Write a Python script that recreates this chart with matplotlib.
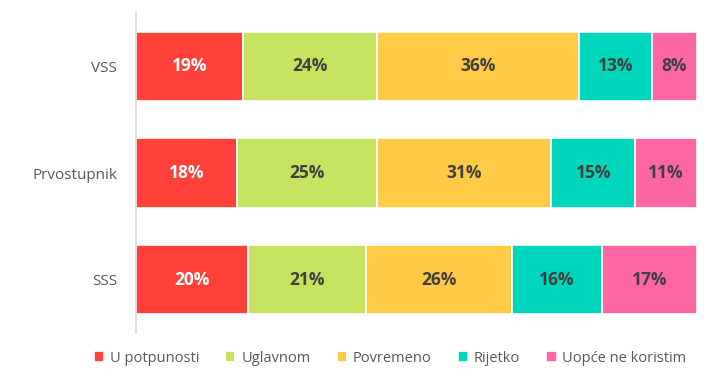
import matplotlib.pyplot as plt
import numpy as np

# data
categories = ['VSS', 'Prvostupnik', 'SSS']
series = ['U potpunosti', 'Uglavnom', 'Povremeno', 'Rijetko', 'Uopće ne koristim']
values = {
    'U potpunosti': [19, 18, 20],
    'Uglavnom': [24, 25, 21],
    'Povremeno': [36, 31, 26],
    'Rijetko': [13, 15, 16],
    'Uopće ne koristim': [8, 11, 17],
}
colors = ['#FF4139', '#C5E35E', '#FFCA45', '#00D6BC', '#FF66A3']
label_colors = ['white', '#404040', '#404040', '#404040', '#404040']

plt.rcParams['font.family'] = ['Open Sans', 'DejaVu Sans']

fig = plt.figure(figsize=(7.28, 3.83), dpi=100)
ax = fig.add_axes([136/728, 1-333/383, (697-136)/728, (333-13)/383])

y = np.arange(len(categories))
left = np.zeros(len(categories))
for name, col, lc in zip(series, colors, label_colors):
    vals = np.array(values[name], dtype=float)
    bars = ax.barh(y, vals, left=left, height=0.65, color=col,
                   edgecolor='white', linewidth=1.2, label=name)
    ax.bar_label(bars, labels=[f'{int(v)}%' for v in vals], label_type='center',
                 color=lc, fontsize=12.5, fontweight='bold')
    left += vals

ax.set_xlim(0, 100)
ax.set_ylim(2.5, -0.5)
ax.set_yticks(y)
ax.set_yticklabels(categories, fontsize=11, color='#595959')
ax.tick_params(axis='y', length=0, pad=13.5)
ax.set_xticks([])
for s in ['top', 'right', 'bottom']:
    ax.spines[s].set_visible(False)
ax.spines['left'].set_color('#D9D9D9')
ax.spines['left'].set_linewidth(1.2)

fig.legend(loc='center', bbox_to_anchor=(390/728, 1-358/383), ncol=5,
           frameon=False, fontsize=10.5, labelcolor='#595959',
           handlelength=0.7, handleheight=0.7, handletextpad=0.4,
           columnspacing=1.8)

fig.savefig('out.png', dpi=100)
